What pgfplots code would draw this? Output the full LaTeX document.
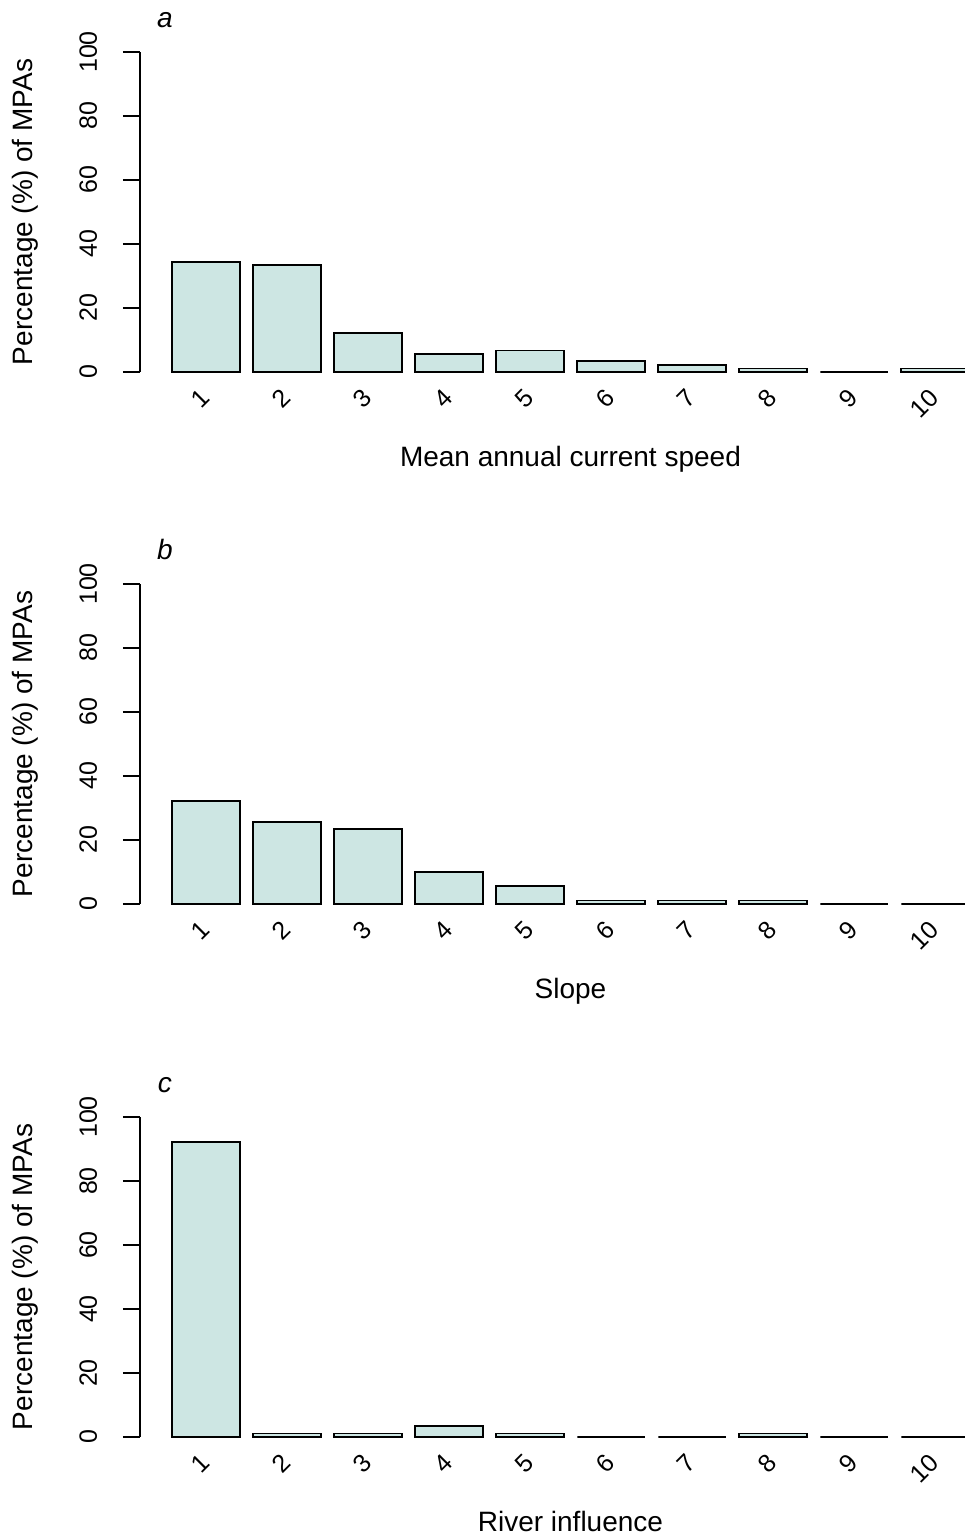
\documentclass[border=0pt]{standalone}
\usepackage{fontspec}
\setmainfont{Liberation Sans}
\usepackage{pgfplots}
\usepackage{pgfplotstable}
\pgfplotsset{compat=1.18}

\definecolor{barfill}{RGB}{205,230,227}

% Percentage of MPAs in each class (1-10) of three environmental variables
\pgfplotstableread{
cls speed slope river
1  34.4  32.2  92.2
2  33.3  25.6   1.1
3  12.2  23.3   1.1
4   5.6  10.0   3.3
5   6.7   5.6   1.1
6   3.3   1.1   0
7   2.2   1.1   0
8   1.1   1.1   1.1
9   0     0     0
10  1.1   0     0
}\mpadata

\tikzset{panel letter/.style={font=\fontsize{14}{16}\selectfont\itshape, anchor=base}}

\pgfplotsset{
  panel/.style={
    scale only axis, width=412pt, height=160pt,
    xmin=0.1852, xmax=10.358, ymin=0, ymax=100,
    clip=false,
    anchor=south west,
    axis x line*=bottom, axis y line*=left,
    x axis line style={draw=none},
    y axis line style={-, line width=0.9pt, black},
    ytick={0,20,...,100},
    ytick align=outside,
    major tick length=8.5pt,
    ytick style={line width=0.9pt, black},
    xtick={1,...,10},
    xtick style={draw=none},
    xtick align=inside,
    /pgf/number format/assume math mode=true,
    tick label style={font=\fontsize{12.5}{15}\selectfont},
    yticklabel style={font=\fontsize{12.5}{15}\selectfont, xshift=-13pt, rotate=90, anchor=base, inner sep=0pt},
    xticklabel style={font=\fontsize{12.5}{15}\selectfont, xshift=1pt, yshift=-12pt, rotate=45, anchor=mid east, inner sep=0pt},
    every axis y label/.style={at={(axis description cs:-0.12985,0.5)}, rotate=90, anchor=base},
    every axis x label/.style={at={(axis description cs:0.5224,-0.2953)}, anchor=base},
    label style={font=\fontsize{14}{16}\selectfont},
    ylabel={Percentage (\%) of MPAs},
  },
  mpabar/.style={ybar, bar width=0.8333, fill=barfill, draw=black, line width=0.95pt},
}

\begin{document}
\begin{tikzpicture}
\useasboundingbox (0,0) rectangle (482pt,768.5pt);

\begin{axis}[panel, at={(70pt,582.5pt)}, xlabel={Mean annual current speed}]
  \addplot[mpabar] table[x=cls, y=speed] {\mpadata};
  \node[panel letter] at (rel axis cs:0.0303,1.078) {a};
\end{axis}

\begin{axis}[panel, at={(70pt,316.5pt)}, xlabel={Slope}]
  \addplot[mpabar] table[x=cls, y=slope] {\mpadata};
  \node[panel letter] at (rel axis cs:0.0303,1.078) {b};
\end{axis}

\begin{axis}[panel, at={(70pt,50pt)}, xlabel={River influence}]
  \addplot[mpabar] table[x=cls, y=river] {\mpadata};
  \node[panel letter] at (rel axis cs:0.0303,1.078) {c};
\end{axis}
\end{tikzpicture}
\end{document}
